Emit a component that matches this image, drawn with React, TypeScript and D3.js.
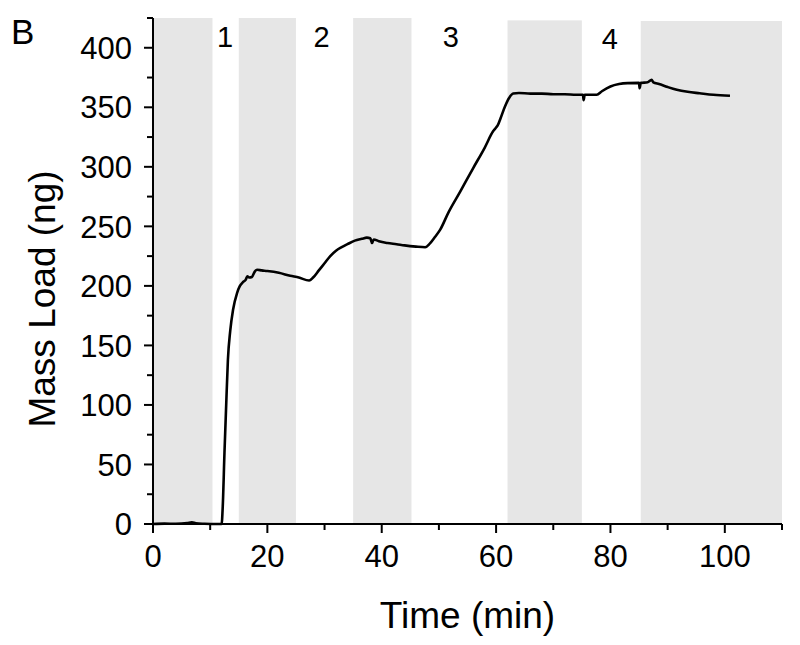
import React from "react";
import * as d3 from "d3";

// time (min), mass load (ng)
const massLoad: [number, number][] = [
  [0, 0], [2, 0.3], [4, 0.2], [6, 0.8], [6.8, 1.5], [7.5, 0.5], [9, 0.2], [11, 0], [12, 0],
  [12.2, 15], [12.5, 60], [12.8, 100], [13.1, 138], [13.5, 162], [14, 180], [14.7, 194],
  [15.2, 200], [15.7, 203], [16.2, 205], [16.5, 208], [16.8, 207], [17.3, 207.5], [17.8, 212],
  [18.2, 213.5], [19, 213], [20, 212.5], [22, 211], [24, 208.5], [25.5, 207], [27.3, 204.5],
  [28, 207], [29, 213], [30, 219], [31, 225], [32, 229.5], [33, 232.5], [34, 235], [35.3, 238],
  [36.5, 239.5], [37.4, 240.5], [38, 240], [38.3, 236], [38.6, 239], [39.5, 237.5], [41, 236],
  [42.6, 235], [44, 234], [46, 233], [47.6, 232.5], [48.4, 235.5], [49.3, 241], [50.2, 247],
  [51.7, 262], [53.7, 279], [56, 299], [58, 316], [59.5, 330], [60, 333], [60.3, 335],
  [60.8, 341], [61.5, 350], [62.3, 358], [63, 361.5], [64, 362], [66, 361.5], [68, 361.5],
  [70, 361], [72, 361], [74, 360.5], [75.2, 360.5], [75.3, 356], [75.5, 360.5], [77.6, 360.5],
  [78.5, 363.5], [80, 367.5], [81.5, 369.5], [83, 370.3], [85, 370.5], [85.1, 366], [85.3, 370.5],
  [86.5, 371], [87.2, 373], [87.5, 371], [88.5, 369.5], [90, 367], [91.6, 364.7], [93.5, 363],
  [95.6, 361.8], [98, 360.5], [100.9, 359.7],
];

// shaded intervals: start, end, top (ng)
const bandStarts = [0, 15, 35, 62, 85.3];
const bandEnds = [10.4, 25, 45.2, 75, 110];
const bandTops = [425, 425, 425, 423, 422.5];

const stepLabels = ["1", "2", "3", "4"];
const stepPositions = [12.6, 29.5, 52.1, 79.9];

const xTicks = [0, 20, 40, 60, 80, 100];
const xMinorTicks = [10, 30, 50, 70, 90, 110];
const yTicks = [0, 50, 100, 150, 200, 250, 300, 350, 400];
const yMinorTicks = [25, 75, 125, 175, 225, 275, 325, 375, 425];

const W = 800;
const H = 645;
const FONT = "'Liberation Sans', Arial, sans-serif";

export default function App() {
  const x = d3.scaleLinear().domain([0, 110]).range([153, 782]);
  const y = d3.scaleLinear().domain([0, 425]).range([524, 18]);

  const line = d3
    .line<[number, number]>()
    .x(d => x(d[0]))
    .y(d => y(d[1]))
    .curve(d3.curveMonotoneX);

  const x0 = x.range()[0];
  const y0 = y.range()[0];

  return (
    <svg
      width={W}
      height={H}
      style={{ position: "absolute", left: 0, top: 0, background: "#fff" }}
      fontFamily={FONT}
    >
      {/* bands */}
      {bandStarts.map((s, i) => (
        <rect
          key={i}
          x={x(s)}
          y={y(bandTops[i])}
          width={x(bandEnds[i]) - x(s)}
          height={y0 - y(bandTops[i])}
          fill="#e6e6e6"
        />
      ))}

      {/* step labels */}
      {stepLabels.map((l, i) => (
        <text key={l} x={x(stepPositions[i])} y={i === 3 ? 49 : 47} fontSize={29} textAnchor="middle" fill="#000">
          {l}
        </text>
      ))}

      {/* curve */}
      <path d={line(massLoad) ?? ""} fill="none" stroke="#000" strokeWidth={2.6} strokeLinejoin="round" />

      {/* axes */}
      <line x1={x0} x2={x0} y1={y(425)} y2={y0} stroke="#000" strokeWidth={2} />
      <line x1={x0 - 1} x2={x(110)} y1={y0} y2={y0} stroke="#000" strokeWidth={2} />

      {xTicks.map(t => (
        <g key={"xt" + t}>
          <line x1={x(t)} x2={x(t)} y1={y0} y2={y0 + 9} stroke="#000" strokeWidth={2} />
          <text x={x(t)} y={567} fontSize={31} textAnchor="middle" fill="#000">
            {t}
          </text>
        </g>
      ))}
      {xMinorTicks.map(t => (
        <line key={"xm" + t} x1={x(t)} x2={x(t)} y1={y0} y2={y0 + 6} stroke="#000" strokeWidth={2} />
      ))}

      {yTicks.map(t => (
        <g key={"yt" + t}>
          <line x1={x0 - 9} x2={x0} y1={y(t)} y2={y(t)} stroke="#000" strokeWidth={2} />
          <text x={132} y={y(t)} dy="0.36em" fontSize={31} textAnchor="end" fill="#000">
            {t}
          </text>
        </g>
      ))}
      {yMinorTicks.map(t => (
        <line key={"ym" + t} x1={x0 - 6} x2={x0} y1={y(t)} y2={y(t)} stroke="#000" strokeWidth={2} />
      ))}

      {/* titles */}
      <text x={(x0 + x(110)) / 2} y={628} fontSize={37} textAnchor="middle" fill="#000">
        Time (min)
      </text>
      <text
        transform="translate(55,299) rotate(-90)"
        fontSize={37}
        textAnchor="middle"
        fill="#000"
      >
        Mass Load (ng)
      </text>
      <text x={11} y={44} fontSize={35} fill="#000">
        B
      </text>
    </svg>
  );
}
